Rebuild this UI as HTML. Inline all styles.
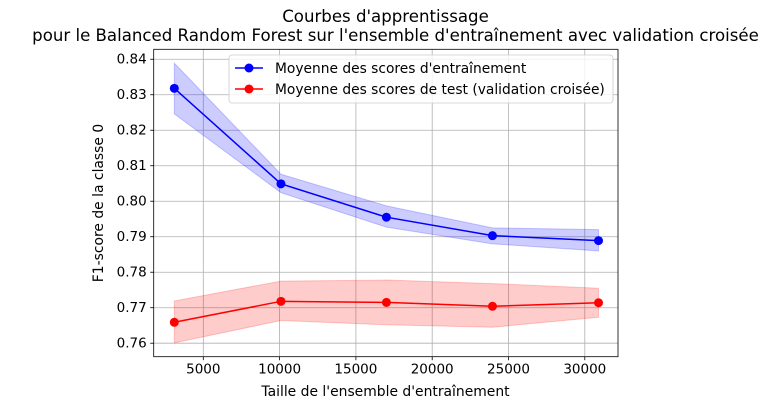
<!DOCTYPE html>
<html><head><meta charset="utf-8"><style>
body{margin:0;background:#fff;width:771px;height:410px;overflow:hidden}
text{font-family:"DejaVu Sans","Liberation Sans",sans-serif;fill:#000}
</style></head><body>
<svg id="chart" width="771" height="410"></svg>
<script>
const sizes=[3100,10090,17000,23950,30900];
const trainMean=[0.8318,0.8049,0.7955,0.7903,0.7889];
const trainUpper=[0.8389,0.8076,0.7987,0.7925,0.7920];
const trainLower=[0.8246,0.8024,0.7927,0.7880,0.7860];
const testMean=[0.7659,0.7718,0.7715,0.7704,0.7714];
const testUpper=[0.7719,0.7775,0.7778,0.7768,0.7755];
const testLower=[0.7601,0.7664,0.7652,0.7645,0.7673];
const xTicks=[5000,10000,15000,20000,25000,30000];
const yTicks=[0.76,0.77,0.78,0.79,0.80,0.81,0.82,0.83,0.84];

const L=153.7,R=618,T=49.3,B=356.7;
const xMin=1750,xMax=32176,yMin=0.7562,yMax=0.8428;
const X=v=>L+(v-xMin)/(xMax-xMin)*(R-L);
const Y=v=>B-(v-yMin)/(yMax-yMin)*(B-T);
const svg=document.getElementById('chart');
const NS='http://www.w3.org/2000/svg';
function mk(tag,attrs,parent){const e=document.createElementNS(NS,tag);for(const k in attrs)e.setAttribute(k,attrs[k]);(parent||svg).appendChild(e);return e;}

xTicks.forEach(t=>{
  const g=mk('line',{x1:X(t),x2:X(t),y1:T,y2:B,stroke:'#b0b0b0','stroke-width':0.8});
  
  
  mk('line',{x1:X(t),x2:X(t),y1:B,y2:B+3.5,stroke:'#000','stroke-width':0.8});
  const tx=mk('text',{x:X(t),y:B+17,'text-anchor':'middle','font-size':13.5});
  tx.textContent=t;
  
  
});
yTicks.forEach(t=>{
  const g=mk('line',{x1:L,x2:R,y1:Y(t),y2:Y(t),stroke:'#b0b0b0','stroke-width':0.8});
  
  
  mk('line',{x1:L-3.5,x2:L,y1:Y(t),y2:Y(t),stroke:'#000','stroke-width':0.8});
  const tx=mk('text',{x:L-7,y:Y(t)+4.5,'text-anchor':'end','font-size':13.5});
  tx.textContent=t.toFixed(2);
  
  
});

function band(up,lo,color,name){
  let d='M'+sizes.map((s,i)=>X(s)+','+Y(up[i])).join('L');
  d+='L'+sizes.map((s,i)=>X(s)+','+Y(lo[i])).reverse().join('L')+'Z';
  const p=mk('path',{d:d,fill:color,'fill-opacity':0.2,stroke:color,'stroke-opacity':0.2});
  
  
}
function series(vals,color,name){
  const pl=mk('polyline',{points:sizes.map((s,i)=>X(s)+','+Y(vals[i])).join(' '),fill:'none',stroke:color,'stroke-width':1.5});
  
  
  sizes.forEach((s,i)=>{
    const c=mk('circle',{cx:X(s),cy:Y(vals[i]),r:4.5,fill:color});
    
    
  });
}
band(trainUpper,trainLower,'#0000ff','train-std-band');
band(testUpper,testLower,'#ff0000','test-std-band');
series(trainMean,'#0000ff','train-mean');
series(testMean,'#ff0000','test-mean');

const fr=mk('rect',{x:L,y:T,width:R-L,height:B-T,fill:'none',stroke:'#000','stroke-width':0.8});



const lg=mk('g',{});


mk('rect',{x:229,y:55,width:384,height:48,rx:3,fill:'#fff','fill-opacity':0.8,stroke:'#ccc','stroke-width':0.8},lg);
[['#0000ff',"Moyenne des scores d'entraînement",68],['#ff0000',"Moyenne des scores de test (validation croisée)",89]].forEach(([c,t,y],i)=>{
  mk('line',{x1:235,x2:263,y1:y,y2:y,stroke:c,'stroke-width':1.5},lg);
  mk('circle',{cx:249,cy:y,r:4.5,fill:c},lg);
  const tx=mk('text',{x:275,y:y+5,'font-size':13.8},lg);
  tx.textContent=t;
  
  
});

const t1=mk('text',{x:385.5,y:22,'text-anchor':'middle','font-size':16.6});
t1.textContent="Courbes d'apprentissage";


const t2=mk('text',{x:395.5,y:41,'text-anchor':'middle','font-size':16.6});
t2.textContent="pour le Balanced Random Forest sur l'ensemble d'entraînement avec validation croisée";


const xl=mk('text',{x:385.5,y:396,'text-anchor':'middle','font-size':13.9});
xl.textContent="Taille de l'ensemble d'entraînement";


const yl=mk('text',{x:0,y:0,'text-anchor':'middle','font-size':13.9,transform:'translate(103,203) rotate(-90)'});
yl.textContent="F1-score de la classe 0";


</script>
</body></html>
